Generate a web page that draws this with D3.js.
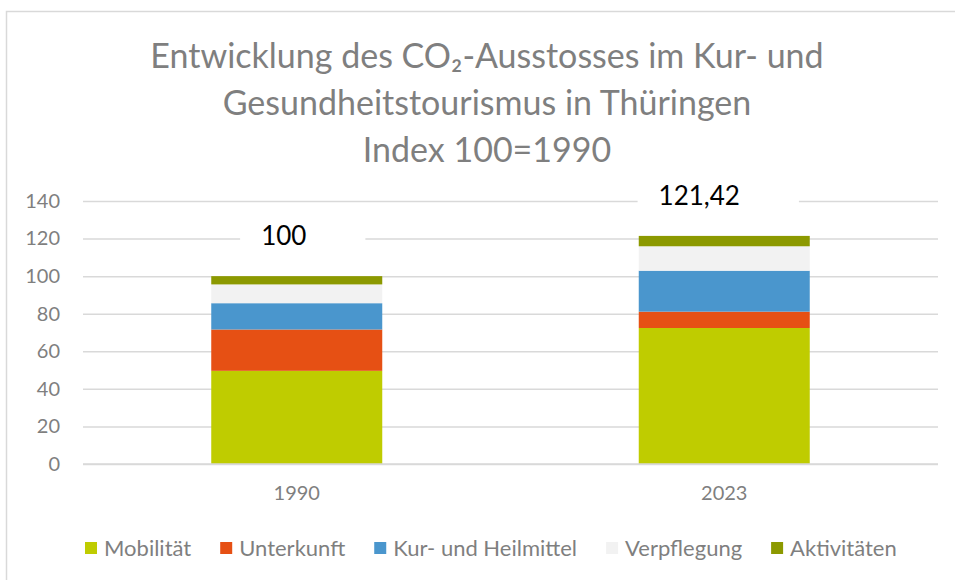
<!DOCTYPE html>
<html>
<head>
<meta charset="utf-8">
<script src="https://cdn.jsdelivr.net/npm/d3@7"></script>
<style>
  body { margin: 0; background: #fff; }
  svg { display: block; font-family: Lato, "Open Sans", sans-serif; }
</style>
</head>
<body>
<div id="chart"></div>
<script>
// data
var years = ["1990", "2023"];
var categories = ["Mobilität", "Unterkunft", "Kur- und Heilmittel", "Verpflegung", "Aktivitäten"];
var mobilitaet  = [49.6, 72.4];
var unterkunft  = [22.0, 8.7];
var kurHeil     = [14.0, 21.8];
var verpflegung = [10.0, 13.0];
var aktivitaeten = [4.4, 5.52];
var totalLabels = ["100", "121,42"];
var yTicks = [0, 20, 40, 60, 80, 100, 120, 140];
var titleLines = ["Entwicklung des CO₂-Ausstosses im Kur- und", "Gesundheitstourismus in Thüringen", "Index 100=1990"];

var width = 955, height = 580;
var plot = {left: 83, right: 938, top: 201, bottom: 464};

var color = d3.scaleOrdinal()
    .domain(categories)
    .range(["#bfcc00", "#e65014", "#4a96cd", "#f2f2f2", "#8c9900"]);

var rows = years.map(function(y, i) {
    return {
        year: y,
        "Mobilität": mobilitaet[i],
        "Unterkunft": unterkunft[i],
        "Kur- und Heilmittel": kurHeil[i],
        "Verpflegung": verpflegung[i],
        "Aktivitäten": aktivitaeten[i]
    };
});

var stack = d3.stack().keys(categories);
var series = stack(rows);

var x = d3.scaleBand()
    .domain(years)
    .range([plot.left, plot.right])
    .paddingInner(0.6)
    .paddingOuter(0.3);

var y = d3.scaleLinear()
    .domain([0, 140])
    .range([plot.bottom, plot.top]);

var svg = d3.select("#chart").append("svg")
    .attr("width", width)
    .attr("height", height);

// chart border
svg.append("rect")
    .attr("x", 6.5).attr("y", 11.5)
    .attr("width", width).attr("height", height)
    .attr("fill", "none")
    .attr("stroke", "#d9d9d9")
    .attr("stroke-width", 1.5);

// title
svg.append("text")
    .attr("text-anchor", "middle")
    .attr("fill", "#7f7f7f")
    .style("font-size", "34px")
    .selectAll("tspan")
    .data(titleLines)
    .enter().append("tspan")
    .attr("x", 487)
    .attr("y", function(d, i) { return 68 + i * 47; })
    .text(function(d) { return d; });

// gridlines
var yAxis = d3.axisLeft(y)
    .tickValues(yTicks)
    .tickSize(-(plot.right - plot.left))
    .tickPadding(23);

var gy = svg.append("g")
    .attr("transform", "translate(" + plot.left + ",0)")
    .call(yAxis);
gy.select(".domain").remove();
gy.selectAll(".tick line")
    .attr("stroke", "#d9d9d9")
    .attr("stroke-width", 1.5);
gy.selectAll(".tick text")
    .attr("fill", "#7f7f7f")
    .style("font-size", "20px")
    .style("font-family", "Lato, sans-serif");

// bars
var layer = svg.selectAll(".layer")
    .data(series)
    .enter().append("g")
    .attr("class", "layer")
    .attr("fill", function(d) { return color(d.key); });

layer.selectAll("rect")
    .data(function(d) { return d; })
    .enter().append("rect")
    .attr("x", function(d) { return x(d.data.year); })
    .attr("y", function(d) { return y(d[1]); })
    .attr("width", x.bandwidth())
    .attr("height", function(d) { return y(d[0]) - y(d[1]); });

// baseline
svg.append("line")
    .attr("x1", plot.left).attr("x2", plot.right)
    .attr("y1", y(0)).attr("y2", y(0))
    .attr("stroke", "#d9d9d9")
    .attr("stroke-width", 1.5);

// x axis labels
var xAxis = d3.axisBottom(x).tickSize(0).tickPadding(22);
var gx = svg.append("g")
    .attr("transform", "translate(0," + y(0) + ")")
    .call(xAxis);
gx.select(".domain").remove();
gx.selectAll(".tick text")
    .attr("fill", "#7f7f7f")
    .style("font-size", "20px")
    .style("font-family", "Lato, sans-serif");

// total labels with white boxes (manually offset like the original text boxes)
var labelShift = [-13, -25];
var totals = rows.map(function(r) {
    return d3.sum(categories, function(k) { return r[k]; });
});

years.forEach(function(yr, i) {
    var g = svg.append("g");
    var box = g.append("rect").attr("fill", "#fff");
    var t = g.append("text")
        .attr("x", x(yr) + x.bandwidth() / 2 + labelShift[i])
        .attr("y", y(totals[i]) - 31)
        .attr("text-anchor", "middle")
        .attr("fill", "#000")
        .style("font-size", "26px")
        .text(totalLabels[i]);
    var bb = t.node().getBBox();
    box.attr("x", bb.x - 21)
        .attr("y", bb.y - 4)
        .attr("width", bb.width + 80)
        .attr("height", bb.height + 8);
});

// legend
var legend = svg.append("g").attr("transform", "translate(85,0)");
var lx = 0;
categories.forEach(function(c) {
    legend.append("rect")
        .attr("x", lx).attr("y", 542)
        .attr("width", 12).attr("height", 12)
        .attr("fill", color(c));
    var t = legend.append("text")
        .attr("x", lx + 19).attr("y", 556)
        .attr("fill", "#7f7f7f")
        .style("font-size", "22px")
        .text(c);
    lx += 19 + t.node().getComputedTextLength() + 29;
});
</script>
</body>
</html>
